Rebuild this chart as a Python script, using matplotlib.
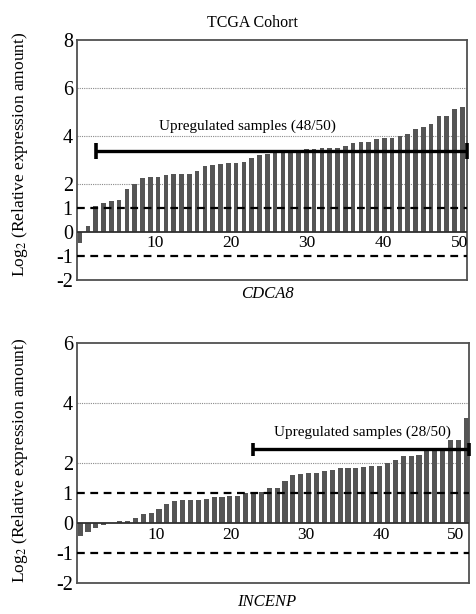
import numpy as np
import matplotlib
matplotlib.use("Agg")
import matplotlib.pyplot as plt

plt.rcParams['font.family'] = ['Liberation Serif', 'DejaVu Serif']
plt.rcParams['mathtext.fontset'] = 'stix'

# ---------------- data ----------------
title = "TCGA Cohort"
gene_top = "CDCA8"
gene_bottom = "INCENP"
ylabel = "Log$_2$ (Relative expression amount)"

cdca8_vals = [-0.49, 0.24, 1.07, 1.18, 1.29, 1.32, 1.79, 2.00, 2.22, 2.29,
              2.29, 2.37, 2.40, 2.40, 2.40, 2.51, 2.74, 2.76, 2.82, 2.86,
              2.88, 2.89, 3.07, 3.19, 3.22, 3.29, 3.32, 3.36, 3.39, 3.43,
              3.46, 3.47, 3.49, 3.49, 3.57, 3.71, 3.74, 3.75, 3.86, 3.89,
              3.92, 3.99, 4.06, 4.26, 4.36, 4.49, 4.82, 4.82, 5.11, 5.21]

incenp_vals = [-0.45, -0.30, -0.18, -0.08, -0.02, 0.05, 0.07, 0.17, 0.30, 0.32,
               0.45, 0.62, 0.72, 0.75, 0.75, 0.75, 0.80, 0.85, 0.87, 0.88,
               0.90, 1.00, 1.02, 1.03, 1.15, 1.15, 1.40, 1.60, 1.63, 1.65,
               1.66, 1.73, 1.77, 1.83, 1.83, 1.84, 1.85, 1.88, 1.88, 2.00,
               2.10, 2.23, 2.23, 2.25, 2.45, 2.45, 2.50, 2.75, 2.75, 3.50]

x_ticks = [10, 20, 30, 40, 50]
y_ticks_top = [-2, -1, 0, 1, 2, 4, 6, 8]
y_ticks_bottom = [-2, -1, 0, 1, 2, 4, 6]

up_text_top = "Upregulated samples (48/50)"
up_text_bottom = "Upregulated samples (28/50)"
up_start_top = 3      # first upregulated sample
up_start_bottom = 23

W, H = 476, 614
fig = plt.figure(figsize=(W / 100, H / 100), dpi=100)

bar_color = "#555555"
frame_color = "#505050"


def draw_panel(ax, vals, yticks, ylim, xlim, grid_levels, up_start, up_y, text_xy, text,
               bar_w, cap, lab_start, lab_step, lab_y):
    x = np.arange(1, len(vals) + 1)
    ax.bar(x, vals, width=bar_w, color=bar_color, edgecolor="none", zorder=3)
    ax.set_xlim(*xlim)
    ax.set_ylim(*ylim)
    for s in ax.spines.values():
        s.set_color(frame_color)
        s.set_linewidth(1.3)
    ax.set_yticks(yticks)
    ax.set_yticklabels([str(t) for t in yticks], fontsize=14.5)
    ax.tick_params(axis='y', length=0, pad=3)
    ax.set_xticks([])
    for g in grid_levels:
        ax.axhline(g, color="#8a8a8a", lw=0.8, ls=(0, (1, 1)), zorder=1)
    for d in (1, -1):
        ax.axhline(d, color="black", lw=1.6, ls=(0, (3.5, 2.5)), zorder=4)
    ax.axhline(0, color="#303030", lw=1.3, zorder=4)
    for i, t in enumerate(x_ticks):
        ax.text(lab_start + i * lab_step, lab_y, str(t), ha="center", va="center",
                fontsize=12.5, zorder=5)
    # upregulated bar
    left = up_start
    right = xlim[1]
    ax.plot([left, right], [up_y, up_y], color="black", lw=2.4, zorder=6, solid_capstyle="butt")
    for xx in (left, right):
        ax.plot([xx, xx], [up_y - cap, up_y + cap], color="black", lw=2.6, zorder=6,
                solid_capstyle="butt", clip_on=False)
    ax.text(text_xy[0], text_xy[1], text, ha="center", va="center", fontsize=11, zorder=7)


ax1 = fig.add_axes([77 / W, 1 - 279.7 / H, 390 / W, 240 / H])
draw_panel(ax1, cdca8_vals, y_ticks_top, (-2, 8), (0.6, 50.6), [2, 4, 6],
           up_start_top, 3.37, (22.5, 4.38), up_text_top, 0.6, 0.32,
           10.6, 9.75, -0.48)

ax2 = fig.add_axes([77 / W, 1 - 582.7 / H, 392 / W, 240 / H])
draw_panel(ax2, incenp_vals, y_ticks_bottom, (-2, 6), (0.6, 50.35), [2, 4],
           up_start_bottom, 2.45, (36.8, 3.03), up_text_bottom, 0.65, 0.22,
           10.7, 9.5, -0.41)

fig.text(252 / W, 1 - 23 / H, title, ha="center", va="center", fontsize=11.5)
fig.text(267 / W, 1 - 294 / H, gene_top, ha="center", va="center", fontsize=12, style="italic")
fig.text(267 / W, 1 - 602 / H, gene_bottom, ha="center", va="center", fontsize=12, style="italic")
fig.text(20 / W, 1 - 154 / H, ylabel, ha="center", va="center", rotation=90, fontsize=12.5)
fig.text(20 / W, 1 - 460 / H, ylabel, ha="center", va="center", rotation=90, fontsize=12.5)

fig.savefig("out.png", dpi=100, facecolor="white")
